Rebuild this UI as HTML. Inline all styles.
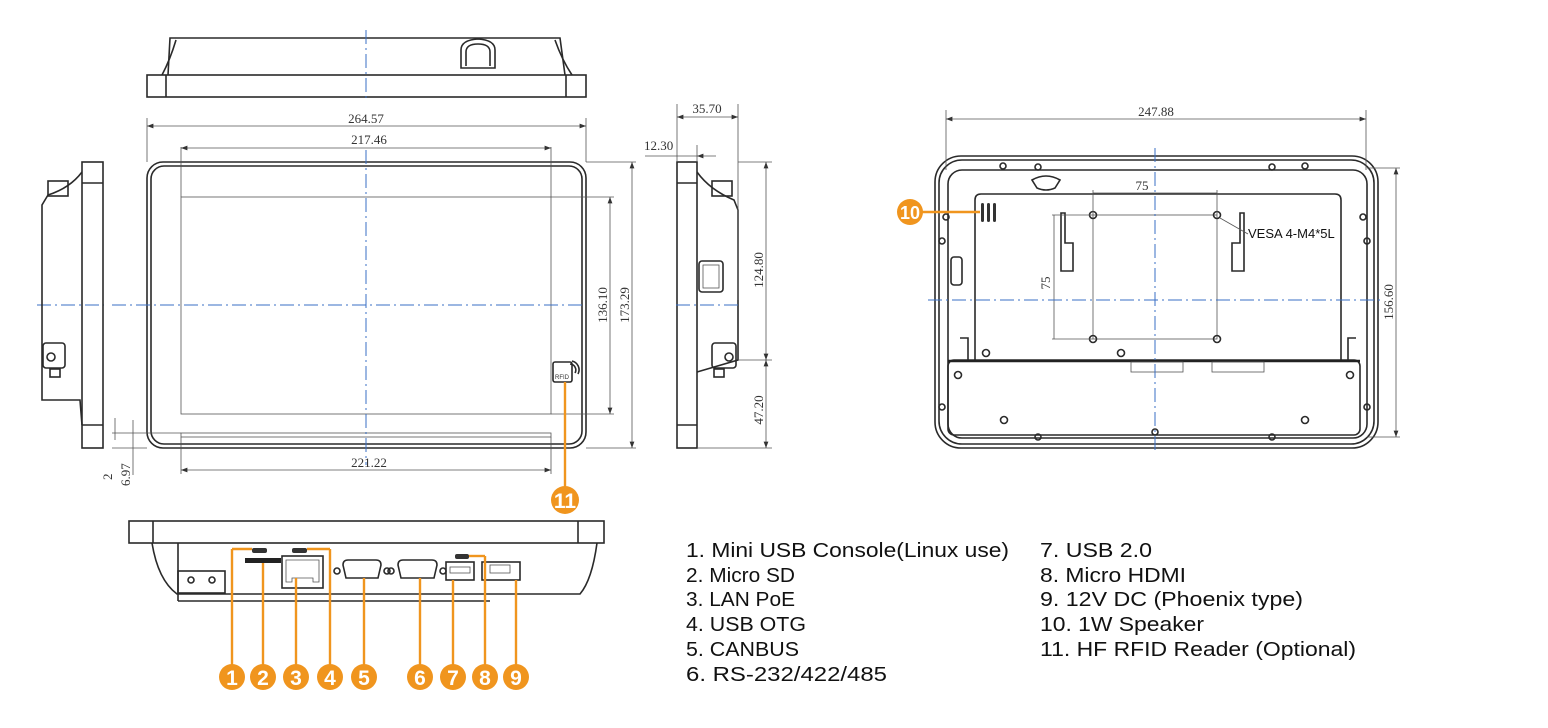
<!DOCTYPE html>
<html><head><meta charset="utf-8"><style>
html,body{margin:0;padding:0;background:#fff;width:1548px;height:728px;overflow:hidden}
svg{display:block}
.l{fill:none;stroke:#2a2a2a;stroke-width:1.6}
.t{fill:none;stroke:#555;stroke-width:.8}
.c{fill:none;stroke:#3a6fc4;stroke-width:1;stroke-dasharray:14 4 2 4}
.o{fill:none;stroke:#f0951e;stroke-width:2.4}
.d{font-family:"Liberation Serif",serif;font-size:13px;fill:#333}
.n{font-family:"Liberation Sans",sans-serif;font-size:21px;font-weight:bold;fill:#fff;text-anchor:middle}
.g{font-family:"Liberation Sans",sans-serif;font-size:20px;fill:#111}
</style></head><body>
<svg width="1548" height="728" viewBox="0 0 1548 728" xmlns="http://www.w3.org/2000/svg">
<defs><marker id="a" markerWidth="8" markerHeight="6" refX="8" refY="3" orient="auto-start-reverse"><path d="M0,0 L8,3 L0,6z" fill="#333"/></marker></defs>

<!-- top view -->
<path class="l" d="M168,75 L170,38 L560,38 L565,75"/>
<path class="l" d="M176,40 Q170,60 162,75 M555,40 Q562,60 572,75"/>
<rect class="l" x="147" y="75" width="439" height="22"/>
<line class="l" x1="166" y1="75" x2="166" y2="97"/><line class="l" x1="566" y1="75" x2="566" y2="97"/>
<path class="l" d="M461,68 L461,50 Q461,40 478,39 Q495,40 495,50 L495,68 Z M466,66 L466,52 Q466,44 478,44 Q490,44 490,52 L490,66"/>
<line class="c" x1="366" y1="30" x2="366" y2="100"/>

<!-- front view -->
<rect class="l" x="147" y="162" width="439" height="286" rx="16"/>
<rect class="l" x="151" y="166" width="431" height="278" rx="13"/>
<rect class="t" x="181" y="197" width="370" height="217"/>
<rect class="t" x="181" y="433" width="370" height="4"/>
<line class="t" x1="181" y1="147" x2="181" y2="197"/><line class="t" x1="551" y1="147" x2="551" y2="197"/>
<line class="t" x1="147" y1="118" x2="147" y2="162"/><line class="t" x1="586" y1="118" x2="586" y2="162"/>
<line class="t" x1="147" y1="126" x2="586" y2="126" marker-start="url(#a)" marker-end="url(#a)"/>
<text class="d" x="366" y="123" text-anchor="middle">264.57</text>
<line class="t" x1="181" y1="148" x2="551" y2="148" marker-start="url(#a)" marker-end="url(#a)"/>
<text class="d" x="369" y="144" text-anchor="middle">217.46</text>
<line class="t" x1="181" y1="437" x2="181" y2="474"/><line class="t" x1="551" y1="437" x2="551" y2="474"/>
<line class="t" x1="181" y1="470" x2="551" y2="470" marker-start="url(#a)" marker-end="url(#a)"/>
<text class="d" x="369" y="467" text-anchor="middle">221.22</text>
<line class="t" x1="551" y1="197" x2="614" y2="197"/><line class="t" x1="551" y1="414" x2="614" y2="414"/>
<line class="t" x1="610" y1="197" x2="610" y2="414" marker-start="url(#a)" marker-end="url(#a)"/>
<text class="d" transform="translate(607,305) rotate(-90)" text-anchor="middle">136.10</text>
<line class="t" x1="586" y1="162" x2="636" y2="162"/><line class="t" x1="586" y1="448" x2="636" y2="448"/>
<line class="t" x1="632" y1="162" x2="632" y2="448" marker-start="url(#a)" marker-end="url(#a)"/>
<text class="d" transform="translate(629,305) rotate(-90)" text-anchor="middle">173.29</text>
<line class="t" x1="112" y1="433" x2="181" y2="433"/><line class="t" x1="112" y1="448" x2="147" y2="448"/>
<line class="t" x1="115" y1="418" x2="115" y2="440"/><line class="t" x1="133" y1="420" x2="133" y2="475"/>
<text class="d" transform="translate(112,480) rotate(-90)">2</text>
<text class="d" transform="translate(130,486) rotate(-90)">6.97</text>
<line class="c" x1="366" y1="150" x2="366" y2="465"/>
<line class="c" x1="112" y1="305" x2="585" y2="305"/>
<line class="c" x1="37" y1="305" x2="104" y2="305"/>
<!-- rfid -->
<rect class="l" x="553" y="362" width="19" height="20" rx="2"/>
<text x="555" y="379" font-family="Liberation Sans" font-size="6" fill="#333">RFID</text>
<path class="l" d="M570,364 a6,6 0 0 1 5,9 M572,361 a9,9 0 0 1 6,13"/>
<line class="o" x1="565" y1="382" x2="565" y2="488"/>
<circle cx="565" cy="500" r="14" fill="#f0951e"/><text class="n" x="565" y="508">11</text>

<!-- left side view -->
<rect class="l" x="82" y="162" width="21" height="286"/>
<line class="l" x1="82" y1="183" x2="103" y2="183"/><line class="l" x1="82" y1="425" x2="103" y2="425"/>
<path class="l" d="M82,172 Q70,188 48,195 L42,205 L42,400 L80,400 L82,425"/>
<rect class="l" x="48" y="181" width="20" height="15"/>
<rect class="l" x="43" y="343" width="22" height="25" rx="3"/><circle class="l" cx="51" cy="357" r="4"/>
<rect class="l" x="50" y="369" width="10" height="8"/>

<!-- right side view -->
<rect class="l" x="677" y="162" width="20" height="286"/>
<line class="l" x1="677" y1="183" x2="697" y2="183"/><line class="l" x1="677" y1="425" x2="697" y2="425"/>
<path class="l" d="M697,172 Q710,190 734,200 L738,210 L738,360 L697,372"/>
<rect class="l" x="712" y="181" width="20" height="15"/>
<rect class="l" x="699" y="261" width="24" height="31" rx="3"/><rect class="t" x="703" y="265" width="16" height="23"/>
<rect class="l" x="712" y="343" width="24" height="25" rx="3"/><circle class="l" cx="729" cy="357" r="4"/>
<rect class="l" x="714" y="369" width="10" height="8"/>
<line class="c" x1="676" y1="305" x2="740" y2="305"/>
<line class="t" x1="677" y1="104" x2="677" y2="162"/><line class="t" x1="738" y1="104" x2="738" y2="300"/>
<line class="t" x1="677" y1="117" x2="738" y2="117" marker-start="url(#a)" marker-end="url(#a)"/>
<text class="d" x="707" y="113" text-anchor="middle">35.70</text>
<line class="t" x1="697" y1="145" x2="697" y2="162"/>
<line class="t" x1="645" y1="156" x2="697" y2="156"/><line class="t" x1="697" y1="156" x2="716" y2="156" marker-start="url(#a)"/>
<text class="d" x="644" y="150">12.30</text>
<line class="t" x1="738" y1="162" x2="772" y2="162"/><line class="t" x1="738" y1="360" x2="772" y2="360"/><line class="t" x1="697" y1="448" x2="772" y2="448"/>
<line class="t" x1="766" y1="162" x2="766" y2="360" marker-start="url(#a)" marker-end="url(#a)"/>
<line class="t" x1="766" y1="360" x2="766" y2="448" marker-start="url(#a)" marker-end="url(#a)"/>
<text class="d" transform="translate(763,270) rotate(-90)" text-anchor="middle">124.80</text>
<text class="d" transform="translate(763,410) rotate(-90)" text-anchor="middle">47.20</text>

<!-- rear view -->
<rect class="l" x="935" y="156" width="443" height="292" rx="26"/>
<rect class="l" x="939" y="160" width="435" height="284" rx="23"/>
<rect class="l" x="948" y="170" width="419" height="268" rx="14"/>
<path class="l" d="M975,360 L975,200 Q975,194 981,194 L1335,194 Q1341,194 1341,200 L1341,360"/>
<rect class="l" x="948" y="360" width="412" height="75" rx="6"/>
<line x1="948" y1="361" x2="1360" y2="361" stroke="#222" stroke-width="2.5"/>
<path class="l" d="M1032,180 Q1046,172 1060,180 L1055,188 Q1046,192 1037,188Z"/>
<rect class="l" x="951" y="257" width="11" height="28" rx="3"/>
<g fill="#333"><rect x="981" y="203" width="3" height="19" rx="1.5"/><rect x="987" y="203" width="3" height="19" rx="1.5"/><rect x="993" y="203" width="3" height="19" rx="1.5"/></g>
<line class="o" x1="922" y1="212" x2="980" y2="212"/>
<circle cx="910" cy="212" r="13" fill="#f0951e"/><text class="n" x="910" y="219" style="font-size:18px">10</text>
<path class="l" d="M1061,213 L1065,213 L1065,243 L1073,243 L1073,271 L1061,271Z"/>
<path class="l" d="M1240,213 L1244,213 L1244,271 L1232,271 L1232,243 L1240,243Z"/>
<rect class="t" x="1093" y="215" width="124" height="124"/>
<g class="l"><circle cx="1093" cy="215" r="3.5"/><circle cx="1217" cy="215" r="3.5"/><circle cx="1093" cy="339" r="3.5"/><circle cx="1217" cy="339" r="3.5"/></g>
<line class="t" x1="1093" y1="193" x2="1217" y2="193"/><line class="t" x1="1093" y1="190" x2="1093" y2="215"/><line class="t" x1="1217" y1="190" x2="1217" y2="215"/>
<text class="d" x="1142" y="190" text-anchor="middle">75</text>
<line class="t" x1="1054" y1="215" x2="1054" y2="339"/><line class="t" x1="1052" y1="215" x2="1093" y2="215"/><line class="t" x1="1052" y1="339" x2="1093" y2="339"/>
<text class="d" transform="translate(1050,283) rotate(-90)" text-anchor="middle">75</text>
<line class="t" x1="1220" y1="218" x2="1248" y2="234"/>
<text x="1248" y="238" font-family="Liberation Sans" font-size="13" fill="#111">VESA 4-M4*5L</text>
<g class="l"><circle cx="1003" cy="166" r="3"/><circle cx="1038" cy="167" r="3"/><circle cx="1272" cy="167" r="3"/><circle cx="1305" cy="166" r="3"/>
<circle cx="946" cy="217" r="3"/><circle cx="942" cy="241" r="3"/><circle cx="1363" cy="217" r="3"/><circle cx="1367" cy="241" r="3"/>
<circle cx="986" cy="353" r="3.5"/><circle cx="1121" cy="353" r="3.5"/><circle cx="958" cy="375" r="3.5"/><circle cx="1350" cy="375" r="3.5"/>
<circle cx="942" cy="407" r="3"/><circle cx="1367" cy="407" r="3"/><circle cx="1004" cy="420" r="3.5"/><circle cx="1305" cy="420" r="3.5"/>
<circle cx="1038" cy="437" r="3"/><circle cx="1155" cy="432" r="3"/><circle cx="1272" cy="437" r="3"/></g>
<rect class="t" x="1131" y="362" width="52" height="10"/><rect class="t" x="1212" y="362" width="52" height="10"/>
<path class="l" d="M960,338 L968,338 L968,360 M1356,338 L1348,338 L1348,360"/>
<line class="t" x1="946" y1="110" x2="946" y2="170"/><line class="t" x1="1366" y1="110" x2="1366" y2="170"/>
<line class="t" x1="946" y1="119" x2="1366" y2="119" marker-start="url(#a)" marker-end="url(#a)"/>
<text class="d" x="1156" y="116" text-anchor="middle">247.88</text>
<line class="t" x1="1367" y1="168" x2="1400" y2="168"/><line class="t" x1="1367" y1="437" x2="1400" y2="437"/>
<line class="t" x1="1396" y1="168" x2="1396" y2="437" marker-start="url(#a)" marker-end="url(#a)"/>
<text class="d" transform="translate(1393,302) rotate(-90)" text-anchor="middle">156.60</text>
<line class="c" x1="1155" y1="148" x2="1155" y2="452"/>
<line class="c" x1="928" y1="300" x2="1380" y2="300"/>

<!-- bottom view -->
<rect class="l" x="129" y="521" width="475" height="22"/>
<line class="l" x1="153" y1="521" x2="153" y2="543"/><line class="l" x1="578" y1="521" x2="578" y2="543"/>
<path class="l" d="M152,543 Q158,580 177,594 L580,594 Q592,580 597,543"/>
<line class="l" x1="178" y1="543" x2="178" y2="601"/><line class="l" x1="178" y1="601" x2="490" y2="601"/>
<rect class="l" x="178" y="571" width="47" height="22"/><circle class="l" cx="191" cy="580" r="3"/><circle class="l" cx="212" cy="580" r="3"/>
<rect x="252" y="548" width="15" height="5" rx="2" fill="#333"/><rect x="245" y="558" width="36" height="5" fill="#222"/>
<rect x="292" y="548" width="15" height="5" rx="2" fill="#333"/>
<rect class="l" x="282" y="556" width="41" height="32"/><path class="t" d="M286,560 L319,560 L319,582 L313,582 L313,578 L292,578 L292,582 L286,582Z"/>
<path class="l" d="M343,565 Q343,560 348,560 L376,560 Q381,560 381,565 L378,578 L346,578Z"/><circle class="l" cx="337" cy="571" r="3"/><circle class="l" cx="387" cy="571" r="3"/>
<path class="l" d="M398,565 Q398,560 403,560 L432,560 Q437,560 437,565 L434,578 L401,578Z"/><circle class="l" cx="391" cy="571" r="3"/><circle class="l" cx="443" cy="571" r="3"/>
<rect x="455" y="554" width="14" height="5" rx="2" fill="#333"/>
<rect class="l" x="446" y="562" width="28" height="18"/><rect class="t" x="450" y="567" width="20" height="6"/>
<rect class="l" x="482" y="562" width="38" height="18"/><rect class="t" x="490" y="565" width="20" height="8"/>
<line class="o" x1="232" y1="549" x2="252" y2="549"/><line class="o" x1="232" y1="549" x2="232" y2="665"/>
<line class="o" x1="263" y1="563" x2="263" y2="665"/>
<line class="o" x1="296" y1="578" x2="296" y2="665"/>
<line class="o" x1="307" y1="549" x2="330" y2="549"/><line class="o" x1="330" y1="549" x2="330" y2="665"/>
<line class="o" x1="364" y1="578" x2="364" y2="665"/>
<line class="o" x1="420" y1="578" x2="420" y2="665"/>
<line class="o" x1="453" y1="580" x2="453" y2="665"/>
<line class="o" x1="469" y1="556" x2="485" y2="556"/><line class="o" x1="485" y1="556" x2="485" y2="665"/>
<line class="o" x1="516" y1="580" x2="516" y2="665"/>
<g fill="#f0951e"><circle cx="232" cy="677" r="13"/><circle cx="263" cy="677" r="13"/><circle cx="296" cy="677" r="13"/><circle cx="330" cy="677" r="13"/><circle cx="364" cy="677" r="13"/><circle cx="420" cy="677" r="13"/><circle cx="453" cy="677" r="13"/><circle cx="485" cy="677" r="13"/><circle cx="516" cy="677" r="13"/></g>
<g class="n"><text x="232" y="685">1</text><text x="263" y="685">2</text><text x="296" y="685">3</text><text x="330" y="685">4</text><text x="364" y="685">5</text><text x="420" y="685">6</text><text x="453" y="685">7</text><text x="485" y="685">8</text><text x="516" y="685">9</text></g>

<!-- legend -->
<g class="g">
<text x="686" y="557" textLength="323" lengthAdjust="spacingAndGlyphs">1. Mini USB Console(Linux use)</text>
<text x="686" y="582" textLength="109" lengthAdjust="spacingAndGlyphs">2. Micro SD</text>
<text x="686" y="606" textLength="109" lengthAdjust="spacingAndGlyphs">3. LAN PoE</text>
<text x="686" y="631" textLength="120" lengthAdjust="spacingAndGlyphs">4. USB OTG</text>
<text x="686" y="656" textLength="113" lengthAdjust="spacingAndGlyphs">5. CANBUS</text>
<text x="686" y="681" textLength="201" lengthAdjust="spacingAndGlyphs">6. RS-232/422/485</text>
<text x="1040" y="557" textLength="112" lengthAdjust="spacingAndGlyphs">7. USB 2.0</text>
<text x="1040" y="582" textLength="146" lengthAdjust="spacingAndGlyphs">8. Micro HDMI</text>
<text x="1040" y="606" textLength="263" lengthAdjust="spacingAndGlyphs">9. 12V DC (Phoenix type)</text>
<text x="1040" y="631" textLength="164" lengthAdjust="spacingAndGlyphs">10. 1W Speaker</text>
<text x="1040" y="656" textLength="316" lengthAdjust="spacingAndGlyphs">11. HF RFID Reader (Optional)</text>
</g>
</svg>
</body></html>
